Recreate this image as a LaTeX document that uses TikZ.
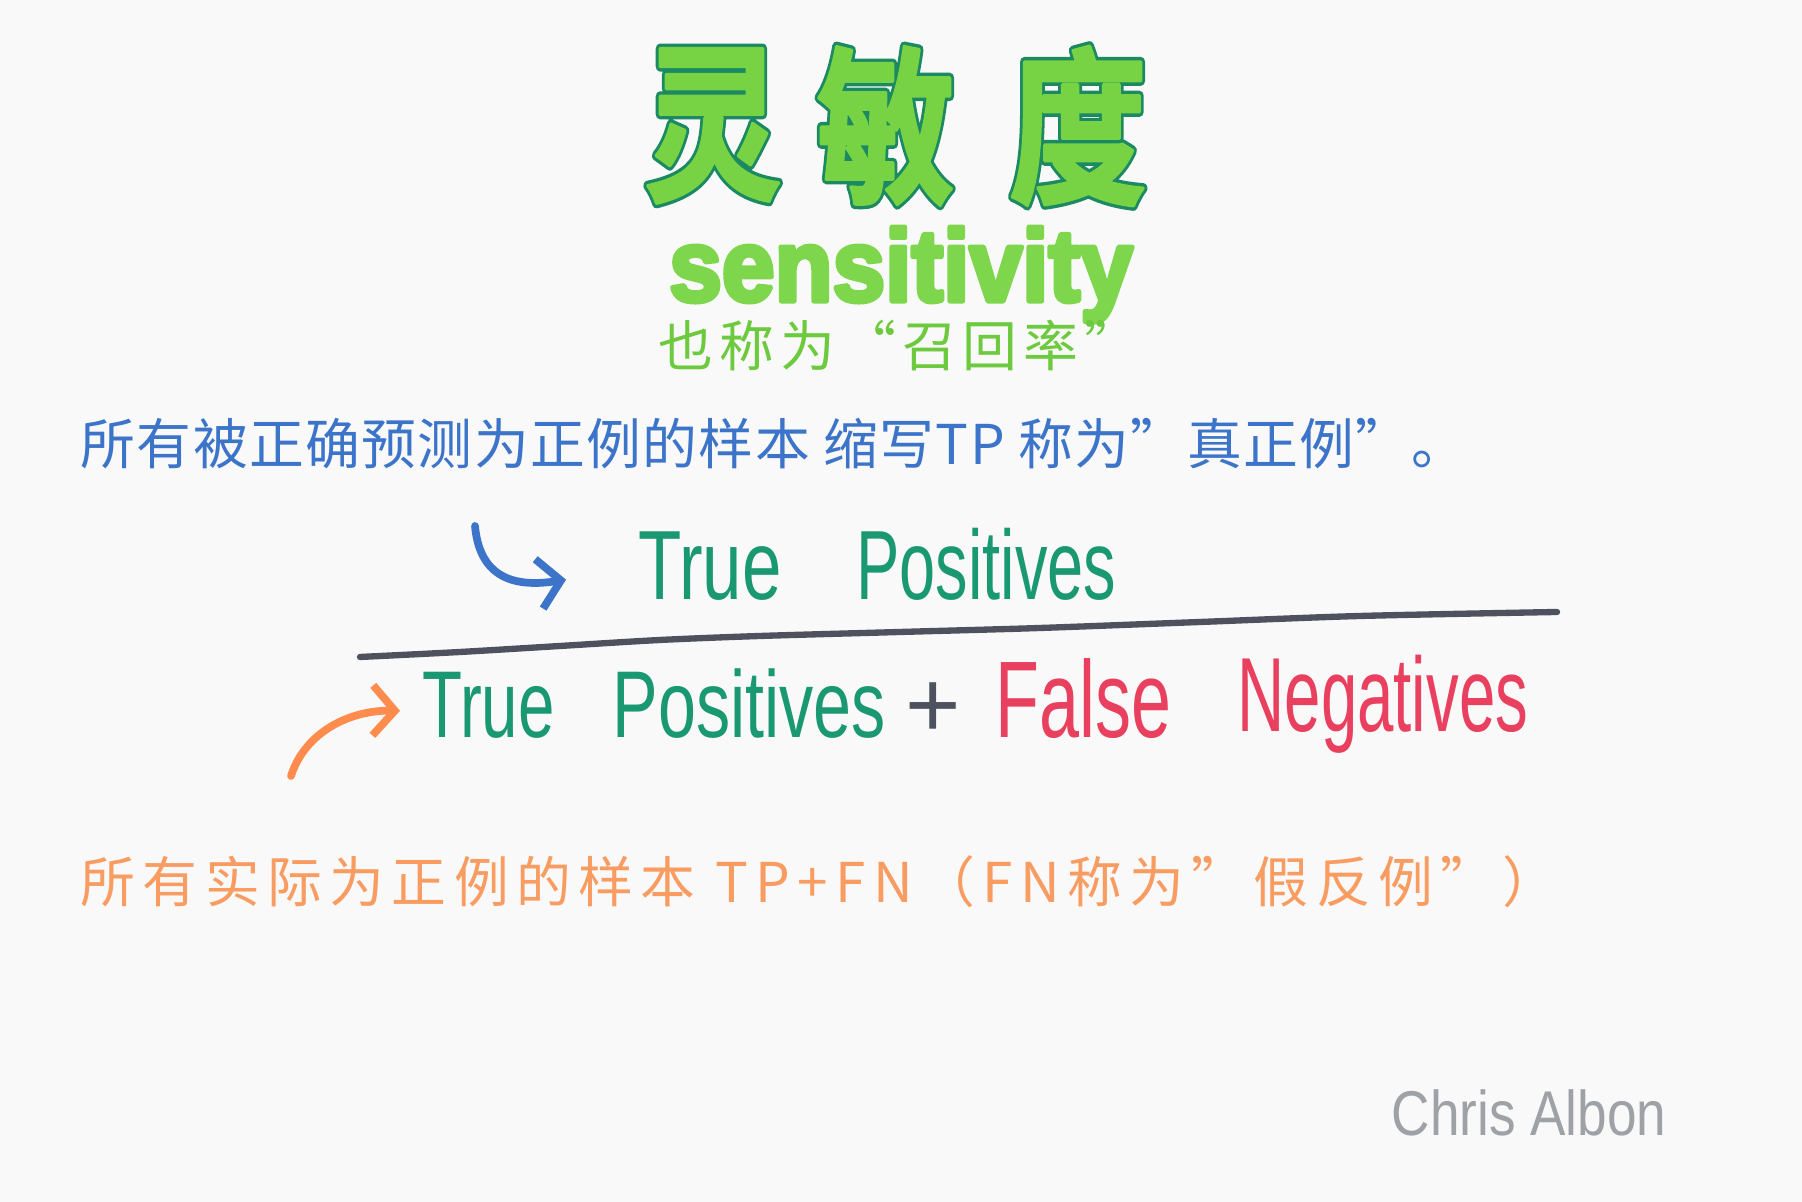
\documentclass[tikz,border=0pt]{standalone}
\usepackage{fontspec}
\usetikzlibrary{arrows.meta}
\setmainfont{Liberation Sans}
\newfontfamily\cjk{Noto Sans CJK SC}
\newfontfamily\titlefill[FakeBold=2]{Noto Sans CJK SC Bold}
\newfontfamily\titleedge[FakeBold=6]{Noto Sans CJK SC Bold}
\newfontfamily\heavy[FakeBold=5]{Liberation Sans Bold}
\newfontfamily\hand{Liberation Sans}
\definecolor{PaperWhite}{HTML}{F9F9F9}
\definecolor{TitleGreen}{HTML}{77D344}
\definecolor{TitleEdge}{HTML}{1B8A62}
\definecolor{SensGreen}{HTML}{7ED64C}
\definecolor{SubGreen}{HTML}{6DCA3E}
\definecolor{NoteBlue}{HTML}{3B74C9}
\definecolor{TPGreen}{HTML}{199871}
\definecolor{FNRed}{HTML}{E9405F}
\definecolor{BarGray}{HTML}{4E525E}
\definecolor{NoteOrange}{HTML}{F99C62}
\definecolor{ArrowOrange}{HTML}{FF8B4D}
\definecolor{SignGray}{HTML}{9EA1A6}
\tikzset{
  titlechar/.style={inner sep=0, xscale=0.82, font=#1\fontsize{48}{48}\selectfont},
  note/.style={inner sep=0, anchor=west, font=\cjk\fontsize{15.6}{18}\selectfont\addfontfeature{LetterSpace=#1}},
  word/.style={inner sep=0, anchor=base west, font=\hand\fontsize{#1}{#1}\selectfont},
}
\begin{document}
\begin{tikzpicture}[line cap=round,line join=round]
  \useasboundingbox[fill=PaperWhite] (0,0) rectangle (18.02,12.02);
  % title, dark edge under light fill
  \foreach \ch/\x [count=\i] in {灵/7.13,敏/8.86,度/10.78} {
    \node[titlechar=\titleedge, text=TitleEdge] (edge\i) at (\x,10.76) {\ch};
    \node[titlechar=\titlefill, text=TitleGreen] (title\i) at (\x,10.76) {\ch};
  }
  \node[inner sep=0, anchor=base, xscale=0.93, font=\heavy\fontsize{29}{29}\selectfont, text=SensGreen] (sens) at (9.01,9.01) {sensitivity};
  \node[note=11, text=SubGreen] (alias) at (6.58,8.56) {也称为“召回率”};
  \node[note=2.5, text=NoteBlue] (tpnote) at (0.80,7.58) {所有被正确预测为正例的样本 缩写TP 称为”真正例”。};
  % numerator
  \node[word=28, text=TPGreen, xscale=0.72] (num1) at (6.38,6.02) {True};
  \node[word=28, text=TPGreen, xscale=0.66] (num2) at (8.56,6.02) {Positives};
  \draw[line width=1.8pt, BarGray] plot[smooth] coordinates {(3.60,5.45) (4.6,5.50) (5.6,5.56) (6.6,5.62) (7.6,5.66) (9.0,5.70) (10.4,5.74) (12.0,5.80) (13.6,5.86) (15.57,5.90)};
  % denominator
  \node[word=27, text=TPGreen, xscale=0.69] (den1) at (4.22,4.64) {True};
  \node[word=27, text=TPGreen, xscale=0.72] (den2) at (6.12,4.64) {Positives};
  \node[word=27, text=BarGray] (plus) at (9.05,4.64) {+};
  \node[word=31, text=FNRed, xscale=0.66] (den3) at (9.95,4.64) {False};
  \node[word=30, text=FNRed, xscale=0.62] (den4) at (12.37,4.70) {Negatives};
  \node[note=13.5, text=NoteOrange] (allpos) at (0.80,3.20) {所有实际为正例的样本 TP+FN（FN称为”假反例”）};
  \node[inner sep=0, xscale=0.84, font=\hand\fontsize{18}{18}\selectfont, text=SignGray] (sign) at (15.29,0.89) {Chris Albon};
  % arrows
  \coordinate (bluetail) at (4.75,6.76);
  \coordinate (orangetail) at (2.91,4.26);
  \draw[line width=2.2pt, NoteBlue, -{Straight Barb[length=2.2mm,width=5mm]}] (bluetail) .. controls (4.80,6.20) and (5.20,6.15) .. ([xshift=-7.2mm,yshift=-1.3mm]num1.west);
  \draw[line width=2.2pt, ArrowOrange, -{Straight Barb[length=2.2mm,width=5mm]}] (orangetail) .. controls (3.05,4.70) and (3.50,4.92) .. ([xshift=-2.2mm,yshift=-0.5mm]den1.west);
\end{tikzpicture}
\end{document}
